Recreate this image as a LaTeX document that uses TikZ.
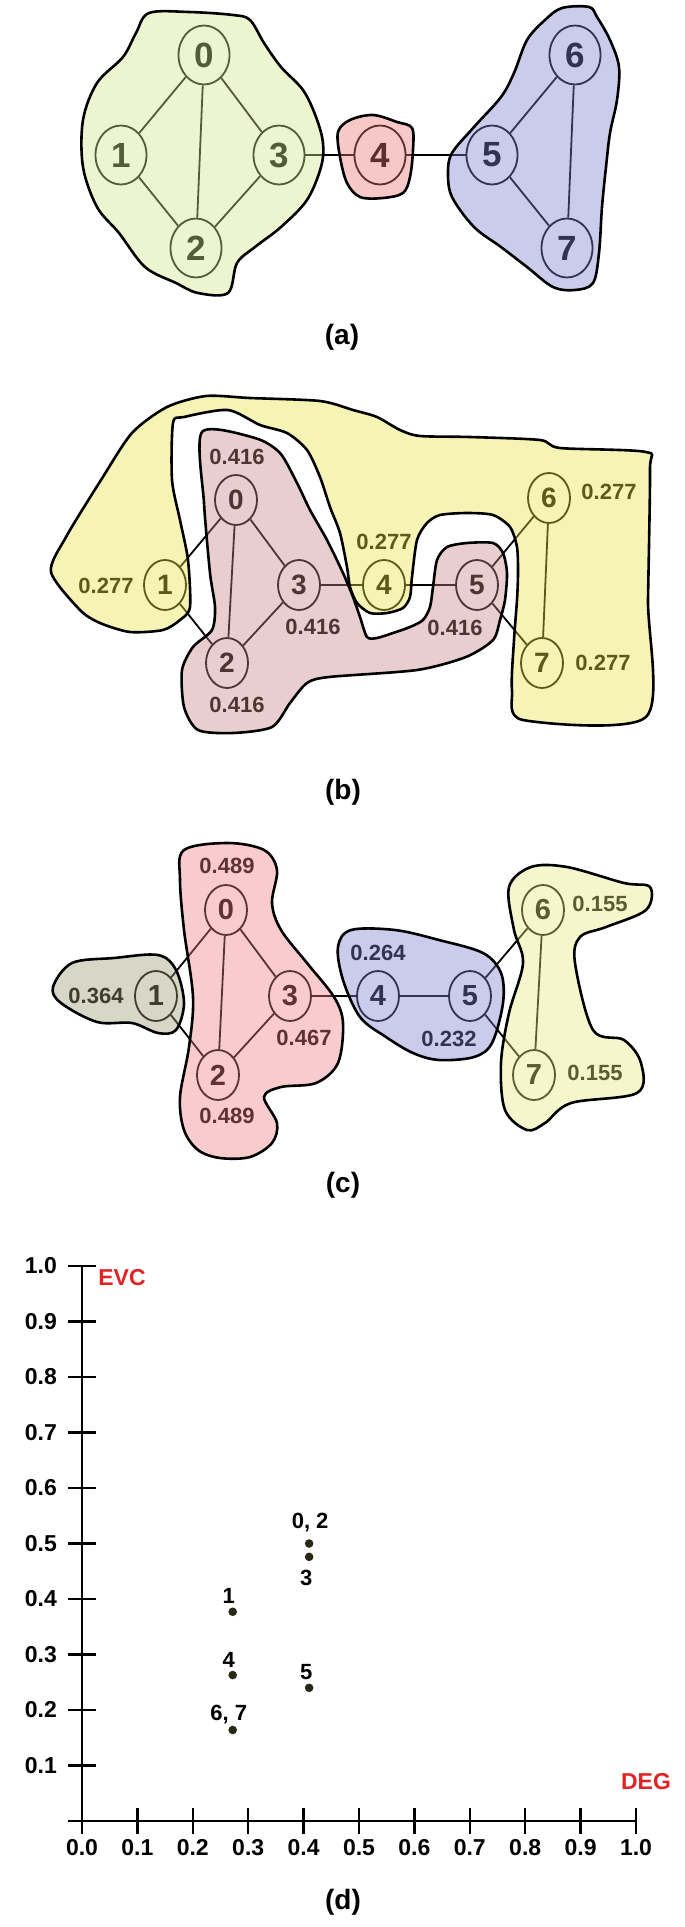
\documentclass[tikz,border=0pt]{standalone}
\usepackage{fontspec}
\setmainfont{Liberation Sans}
\usetikzlibrary{shapes.geometric}

\definecolor{grnA}{RGB}{208,230,138}
\definecolor{redA}{RGB}{232,118,118}
\definecolor{bluA}{RGB}{125,125,207}
\definecolor{yelB}{RGB}{232,227,67}
\definecolor{pnkB}{RGB}{197,132,132}
\definecolor{gryC}{RGB}{155,155,117}
\definecolor{pnkC}{RGB}{237,127,127}
\definecolor{yelC}{RGB}{232,232,127}
\definecolor{evcred}{RGB}{225,35,35}
\definecolor{dotcol}{RGB}{40,40,20}

\newcommand{\fsz}[1]{\fontsize{#1}{#1}\selectfont}

\begin{document}
\begin{tikzpicture}[x=1pt, y=-1pt,
    vtx/.style={ellipse, draw, line width=1.8pt, inner sep=0pt, font=\bfseries\fsz{28}},
    vtxA/.style={vtx, minimum width=51pt, minimum height=59pt, font=\bfseries\fsz{35}},
    vtxB/.style={vtx, minimum width=42pt, minimum height=50pt},
    vtxC/.style={vtx, minimum width=42pt, minimum height=50pt, font=\bfseries\fsz{29}},
    val/.style={inner sep=0pt, font=\bfseries\fsz{22}},
    panelcap/.style={inner sep=0pt, font=\bfseries\fsz{28}},
    link/.style={line width=1.8pt},
    blob/.style={draw=black, line width=2.6pt, line join=round, fill=#1, fill opacity=0.4},
    axis/.style={line width=2.5pt},
    tick/.style={inner sep=0pt, font=\bfseries\fsz{23}},
    ptlbl/.style={inner sep=0pt, font=\bfseries\fsz{22}},
    axname/.style={inner sep=0pt, text=evcred, font=\bfseries\fsz{23}}]
\useasboundingbox (0,0) rectangle (685,1927);

% (a)
\node[vtxA] (a0) at (204,55) {0};
\node[vtxA] (a1) at (121,155) {1};
\node[vtxA] (a2) at (196,248) {2};
\node[vtxA] (a3) at (279,155) {3};
\node[vtxA] (a4) at (380,155) {4};
\node[vtxA] (a5) at (492,155) {5};
\node[vtxA] (a6) at (575,55) {6};
\node[vtxA] (a7) at (567,248) {7};

% (b)
\node[vtxB] (b0) at (236,500) {0};
\node[vtxB] (b1) at (165,585) {1};
\node[vtxB] (b2) at (227,663) {2};
\node[vtxB] (b3) at (299,585) {3};
\node[vtxB] (b4) at (384,585) {4};
\node[vtxB] (b5) at (477,585) {5};
\node[vtxB] (b6) at (549,498) {6};
\node[vtxB] (b7) at (542,663) {7};
\node[val] (b0v) at (237,457) {0.416};
\node[val] (b1v) at (106,586) {0.277};
\node[val] (b2v) at (237,705) {0.416};
\node[val] (b3v) at (313,627) {0.416};
\node[val] (b4v) at (384,542) {0.277};
\node[val] (b5v) at (455,628) {0.416};
\node[val] (b6v) at (609,492) {0.277};
\node[val] (b7v) at (603,663) {0.277};

% (c)
\node[vtxC] (c0) at (226,910) {0};
\node[vtxC] (c1) at (156,996) {1};
\node[vtxC] (c2) at (218,1075) {2};
\node[vtxC] (c3) at (290,996) {3};
\node[vtxC] (c4) at (378,996) {4};
\node[vtxC] (c5) at (470,996) {5};
\node[vtxC] (c6) at (543,910) {6};
\node[vtxC] (c7) at (534,1075) {7};
\node[val] (c0v) at (227,866) {0.489};
\node[val] (c1v) at (96,996) {0.364};
\node[val] (c2v) at (227,1116) {0.489};
\node[val] (c3v) at (304,1038) {0.467};
\node[val] (c4v) at (378,953) {0.264};
\node[val] (c5v) at (449,1039) {0.232};
\node[val] (c6v) at (600,904) {0.155};
\node[val] (c7v) at (595,1073) {0.155};

\foreach \p in {a,b,c}
  \foreach \u/\v in {0/1,0/2,0/3,1/2,2/3,3/4,4/5,5/6,5/7,6/7}
    \draw[link] (\p\u) -- (\p\v);

% regions laid over the graphs
\draw[blob=grnA] plot[smooth cycle, tension=0.55] coordinates {
  (149,13) (189,12) (233,15) (250,20) (264,43) (281,67) (303,90) (316,117)
  (323,143) (321,167) (307,200) (281,227) (255,247) (237,263) (228,293)
  (198,293) (176,283) (145,267) (119,233) (97,207) (83,167) (83,120)
  (97,83) (123,57) (136,33)};
\draw[blob=redA] plot[smooth cycle, tension=0.55] coordinates {
  (338,132) (350,120) (373,115) (397,122) (412,128) (413,150) (410,177)
  (403,193) (383,198) (360,197) (347,183) (340,157)};
\draw[blob=bluA] plot[smooth cycle, tension=0.55] coordinates {
  (562,8) (589,7) (597,17) (610,40) (619,67) (617,100) (610,133) (606,167)
  (602,207) (599,253) (593,283) (575,290) (553,287) (527,267) (501,247)
  (474,227) (452,197) (448,173) (452,153) (474,127) (501,97) (514,73)
  (527,40) (545,20)};

\draw[blob=yelB] plot[smooth cycle, tension=0.45] coordinates {
  (51,572) (66,537) (101,480) (132,433) (167,407) (206,396) (250,398)
  (320,401) (353,410) (377,417) (400,430) (420,436) (470,437) (540,440)
  (560,448) (646,452) (650,470) (648,600) (646,717) (523,720) (512,690)
  (514,640) (517,600) (518,573) (517,547) (510,527) (493,515) (467,513)
  (440,515) (427,523) (417,540) (412,577) (410,597) (403,608) (387,613)
  (370,613) (357,603) (350,587) (347,567) (340,533) (330,507) (320,477)
  (307,450) (287,433) (260,425) (228,410) (184,417) (173,423) (172,480)
  (180,520) (188,560) (190,607) (180,620) (163,630) (130,632) (100,623)
  (80,610)};
\draw[blob=pnkB] plot[smooth cycle, tension=0.45] coordinates {
  (202,432) (255,438) (280,453) (297,483) (310,510) (327,540) (343,573)
  (353,597) (360,617) (367,637) (377,638) (393,633) (410,627) (423,620)
  (430,607) (433,587) (437,560) (447,547) (467,543) (493,543) (503,553)
  (507,573) (505,600) (500,620) (493,640) (466,657) (417,670) (329,677)
  (307,683) (290,703) (272,727) (233,733) (198,730) (184,707) (182,670)
  (193,647) (212,630) (215,607) (210,573) (204,503)};

\draw[blob=gryC] plot[smooth cycle, tension=0.55] coordinates {
  (53,987) (72,963) (114,958) (158,955) (176,970) (184,1003) (176,1030)
  (158,1033) (132,1023) (97,1022) (61,1003)};
\draw[blob=pnkC] plot[smooth cycle, tension=0.55] coordinates {
  (184,850) (228,843) (264,850) (277,870) (272,903) (281,930) (307,963)
  (334,997) (343,1023) (338,1063) (316,1083) (281,1087) (264,1097)
  (277,1123) (272,1143) (250,1157) (220,1158) (198,1150) (184,1130)
  (180,1097) (189,1047) (193,997) (184,930) (180,880)};
\draw[blob=bluA] plot[smooth cycle, tension=0.55] coordinates {
  (338,947) (351,930) (395,930) (439,940) (483,953) (501,973) (503,1003)
  (492,1043) (474,1057) (439,1060) (413,1053) (386,1037) (360,1017)
  (343,980)};
\draw[blob=yelC] plot[smooth cycle, tension=0.55] coordinates {
  (509,887) (531,867) (567,867) (624,883) (650,887) (646,910) (606,927)
  (580,937) (575,963) (593,1030) (624,1040) (641,1063) (637,1093)
  (571,1103) (545,1123) (527,1130) (505,1110) (501,1063) (509,1013)
  (523,963) (514,930)};

\node[panelcap] (capa) at (342,337) {(a)};
\node[panelcap] (capb) at (343,792) {(b)};
\node[panelcap] (capc) at (343,1185) {(c)};

% (d)
\begin{scope}[shift={(82,1821)}, x=554pt, y=555pt]
  \draw[axis] (-0.025,0) -- (1,0);
  \draw[axis] (0,-0.0235) -- (0,1);
  \foreach \v [count=\i] in {0.1,0.2,0.3,0.4,0.5,0.6,0.7,0.8,0.9,1.0} {
    \draw[axis] (-0.025,\v) -- (0.025,\v);
    \node[tick, anchor=east] (ty\i) at (-0.045,\v) {\v};
  }
  \foreach \v [count=\i] in {0.0,0.1,0.2,0.3,0.4,0.5,0.6,0.7,0.8,0.9,1.0} {
    \draw[axis] (\v,-0.0235) -- (\v,0.0235);
    \node[tick] (tx\i) at (\v,-0.048) {\v};
  }
  \coordinate (p1) at (0.272,0.377);
  \coordinate (p4) at (0.272,0.263);
  \coordinate (p67) at (0.272,0.164);
  \coordinate (p02) at (0.41,0.50);
  \coordinate (p3) at (0.41,0.476);
  \coordinate (p5) at (0.41,0.24);
  \foreach \q in {p1,p4,p67,p02,p3,p5}
    \fill[dotcol] (\q) circle (4.3pt);
  \node[ptlbl] (l1) at ([shift={(-4pt,16pt)}]p1) {1};
  \node[ptlbl] (l4) at ([shift={(-4pt,15pt)}]p4) {4};
  \node[ptlbl] (l67) at ([shift={(-4pt,15pt)}]p67) {6, 7};
  \node[ptlbl] (l02) at ([shift={(1pt,21pt)}]p02) {0, 2};
  \node[ptlbl] (l3) at ([shift={(-3pt,-21pt)}]p3) {3};
  \node[ptlbl] (l5) at ([shift={(-3pt,16pt)}]p5) {5};
\end{scope}
\node[axname] (evc) at (122,1278) {EVC};
\node[axname] (deg) at (646,1782) {DEG};
\node[panelcap] (capd) at (343,1902) {(d)};
\end{tikzpicture}
\end{document}
